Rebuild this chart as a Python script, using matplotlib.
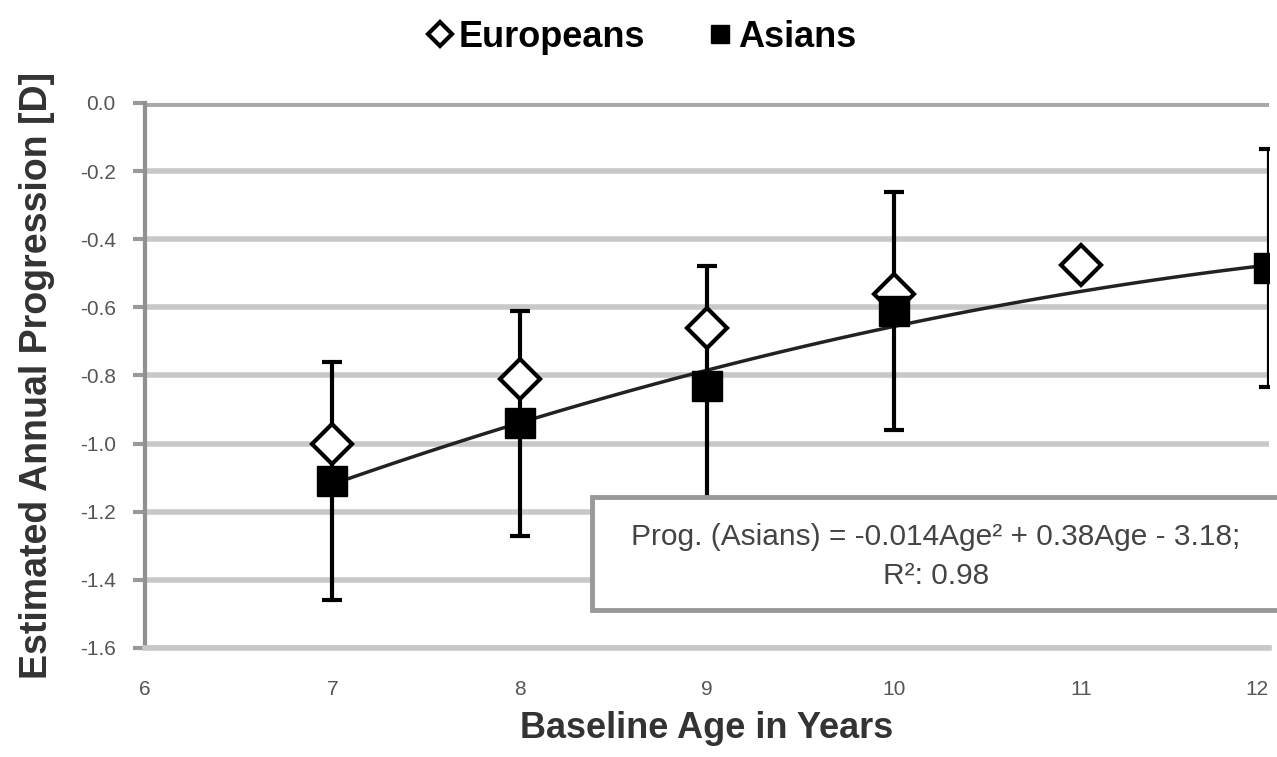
import numpy as np
import matplotlib.pyplot as plt
from matplotlib.patches import Rectangle

plt.rcParams['font.family'] = ['Liberation Sans', 'DejaVu Sans']

eu_age = [7, 8, 9, 10, 11]
eu_prog = [-1.00, -0.81, -0.66, -0.56, -0.475]

as_age = [7, 8, 9, 10, 12]
as_prog = [-1.11, -0.94, -0.83, -0.61, -0.485]
as_err = [0.35, 0.33, 0.35, 0.35, 0.35]

yticks = [0.0, -0.2, -0.4, -0.6, -0.8, -1.0, -1.2, -1.4, -1.6]
xticks = [6, 7, 8, 9, 10, 11, 12]

fig = plt.figure(figsize=(12.77, 7.57), dpi=100)
ax = fig.add_axes([0.1135, 0.144, 0.88, 0.72])

for y in yticks[1:]:
    ax.axhline(y, color='#c8c8c8', lw=4, zorder=0)
ax.axhline(0.0, color='#a8a8a8', lw=5, zorder=0)

# quadratic trend through the Asian means
coef = np.polyfit(as_age, as_prog, 2)
xs = np.linspace(7, 12, 100)
ax.plot(xs, np.polyval(coef, xs), color='#222222', lw=2.5, zorder=2)

ax.errorbar(as_age, as_prog, yerr=as_err, fmt='none', ecolor='black',
            elinewidth=3, capsize=7, capthick=3, zorder=3)
ax.plot(eu_age, eu_prog, 'D', ms=20, mfc='white', mec='black', mew=3,
        zorder=4, label='Europeans')
ax.plot(as_age, as_prog, 's', ms=21, mfc='black', mec='black',
        zorder=5, label='Asians')

ax.set_xlim(6, 12)
ax.set_ylim(-1.6, 0.0)
ax.set_xticks(xticks)
ax.set_yticks(yticks)
ax.set_yticklabels([f'{v:.1f}' for v in yticks])
ax.tick_params(axis='both', labelsize=15, colors='#555555')
ax.tick_params(axis='x', length=0, pad=23)
ax.tick_params(axis='y', length=9, width=3, color='#999999', direction='out',
               pad=12)
# keep the last x label inside the figure edge
ax.get_xticklabels()[-1].set_horizontalalignment('right')

for s in ['top', 'right']:
    ax.spines[s].set_visible(False)
ax.spines['left'].set_color('#909090')
ax.spines['left'].set_linewidth(3)
ax.spines['bottom'].set_color('#c8c8c8')
ax.spines['bottom'].set_linewidth(4)

ax.set_xlabel('Baseline Age in Years', fontsize=26, fontweight='bold',
              color='#333333', labelpad=9)
ax.set_ylabel('Estimated Annual Progression [D]', fontsize=27,
              fontweight='bold', color='#333333', labelpad=18)

ax.legend(loc='center', bbox_to_anchor=(0.44, 1.12), ncol=2,
          frameon=False, prop={'weight': 'bold', 'size': 26},
          handletextpad=0.0, columnspacing=1.6, markerscale=0.6,
          handlelength=1.0)

fig.patches.append(Rectangle((0.4636, 0.194), 0.6, 0.149,
                             transform=fig.transFigure, fc='white',
                             ec='#999999', lw=3.5, zorder=10))
fig.text(0.733, 0.2655,
         'Prog. (Asians) = -0.014Age² + 0.38Age - 3.18;\nR²: 0.98',
         ha='center', va='center', fontsize=21.5, color='#444444',
         linespacing=1.5, zorder=11)

fig.savefig('out.png', dpi=100)
